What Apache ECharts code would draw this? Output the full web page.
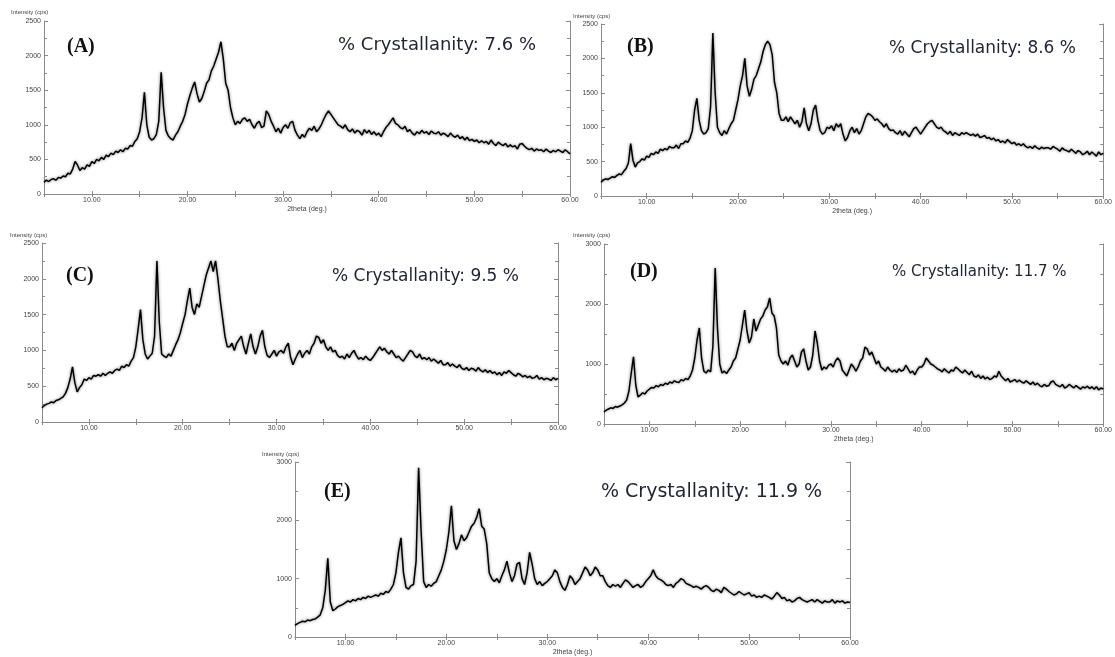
<!DOCTYPE html>
<html>
<head>
<meta charset="utf-8">
<title>XRD patterns</title>
<script src="https://cdn.jsdelivr.net/npm/echarts@6/dist/echarts.min.js"></script>
<style>
html,body{margin:0;padding:0;background:#fff;}
#main{width:1115px;height:657px;}
</style>
</head>
<body>
<div id="main"></div>
<script>
// scan range 5.00 - 60.00 deg 2theta, step 0.25 (one row = one degree)
var scanStart = 5, scanStep = 0.25;

var intensityA = [
170,200,180,210, 220,200,240,230, 260,250,300,290, 360,470,420,340, 380,360,420,400,
470,440,500,480, 530,500,560,540, 590,570,620,600, 640,610,660,650, 700,690,760,800,
900,1100,1470,1000, 820,780,800,860, 1050,1760,1250,920, 840,800,780,850, 900,980,1050,1150,
1300,1420,1530,1620, 1450,1330,1380,1480, 1600,1650,1780,1850, 1950,2050,2200,1950, 1600,1500,1250,1100,
1000,1050,1020,1080, 1100,1050,1080,1000, 950,1020,1050,960, 980,1200,1150,1050, 980,900,950,880,
960,1000,950,1030, 1050,920,850,800, 860,820,900,950, 920,980,900,940, 1000,1080,1150,1200,
1150,1100,1050,1000, 980,950,1000,930, 900,940,880,920, 900,850,930,880, 920,860,900,850,
880,830,900,960, 1000,1050,1100,1020, 1000,960,940,980, 900,930,880,850, 900,870,920,880,
900,860,910,880, 870,900,850,880, 860,830,880,840, 820,850,800,830, 780,820,770,790,
760,780,740,770, 740,760,720,780, 730,700,750,720, 700,730,680,710, 680,700,650,720,
730,690,660,640, 660,620,650,630, 640,610,650,620, 600,630,610,640, 620,600,640,610,
580];

var intensityB = [
200,230,250,240, 260,280,270,300, 320,310,360,400, 480,760,520,420, 480,500,540,520,
580,560,620,600, 640,620,680,660, 690,670,720,700, 700,740,690,760, 760,800,780,840,
950,1250,1420,1100, 950,900,920,980, 1300,2370,1500,1000, 920,880,950,900, 980,1050,1100,1250,
1400,1600,1750,2000, 1600,1450,1550,1700, 1750,1850,1950,2100, 2200,2250,2200,2050, 1650,1500,1200,1100,
1100,1150,1080,1150, 1100,1050,1100,1000, 1080,1280,1050,950, 1050,1250,1320,1100, 950,900,920,1000,
980,1020,950,1050, 1000,1050,900,800, 850,950,1000,920, 980,900,950,1050, 1150,1200,1180,1150,
1100,1120,1080,1050, 1000,1050,980,950, 960,920,900,950, 880,940,900,860, 920,980,1000,950,
900,950,1000,1050, 1080,1100,1050,1000, 980,1000,950,930, 900,940,880,920, 900,880,920,900,
920,900,880,900, 870,900,850,860, 880,840,850,820, 840,800,820,780, 800,770,820,790,
760,780,740,760, 730,760,720,700, 720,690,730,700, 680,710,690,700, 700,680,720,700,
680,650,700,670, 660,640,680,650, 620,660,640,600, 620,650,600,640, 610,580,640,600,
620];

var intensityC = [
200,230,250,260, 280,270,300,310, 330,350,400,480, 600,770,550,420, 480,520,600,580,
620,600,650,640, 660,640,680,650, 680,700,680,720, 740,720,780,760, 800,780,850,900,
1050,1300,1570,1150, 950,880,920,960, 1200,2250,1400,950, 920,900,950,920, 1000,1080,1150,1250,
1380,1500,1700,1870, 1600,1500,1650,1600, 1750,1900,2050,2150, 2250,2100,2250,2000, 1700,1450,1200,1050,
1050,1100,1000,1100, 1150,1200,1050,950, 1100,1230,1050,950, 1050,1200,1280,1050, 930,900,950,1000,
920,980,1000,960, 1050,1100,900,800, 880,950,1000,900, 960,1000,950,1050, 1100,1200,1180,1100,
1150,1050,1000,1050, 980,1000,930,900, 920,880,950,900, 960,1000,930,880, 900,870,920,880,
860,900,950,1000, 1050,1000,1030,980, 950,1000,950,900, 920,880,850,900, 950,1000,980,920,
900,950,880,900, 870,900,850,880, 850,820,860,800, 800,830,780,810, 780,760,800,750,
730,760,720,750, 740,710,760,720, 700,730,690,720, 680,700,660,690, 650,700,680,720,
690,660,640,680, 660,630,650,620, 640,610,620,650, 600,620,590,610, 600,580,620,590,
610];

var intensityD = [
200,230,250,270, 260,290,280,300, 320,350,400,550, 850,1120,650,450, 480,520,500,550,
580,610,600,640, 620,660,640,680, 660,700,680,720, 700,690,740,720, 760,740,800,900,
1100,1400,1600,1100, 880,850,900,870, 1300,2600,1600,1000, 850,880,840,900, 950,1050,1100,1250,
1400,1650,1900,1550, 1350,1450,1750,1550, 1650,1750,1800,1900, 1950,2100,1850,1800, 1600,1150,1050,1000,
1050,980,1100,1150, 1050,950,1000,1200, 1250,1050,900,950, 1150,1550,1350,1050, 900,950,920,980,
1000,950,1050,1100, 1050,900,850,800, 900,1000,950,880, 950,1050,1100,1280, 1250,1150,1200,1100,
1000,1050,950,920, 880,950,900,870, 900,860,920,880, 900,980,920,850, 880,820,900,950,
950,1000,1100,1050, 1000,980,950,920, 900,870,920,880, 850,900,880,950, 920,880,850,900,
860,820,880,800, 780,820,760,800, 750,780,740,760, 800,780,880,800, 760,720,760,700,
720,740,700,730, 700,680,720,690, 660,700,650,680, 640,620,660,630, 640,700,720,660,
640,620,660,600, 620,660,630,600, 640,610,580,620, 600,630,590,620, 580,620,570,600,
580];

var intensityE = [
200,230,250,270, 260,290,280,300, 310,340,380,500, 800,1350,600,450, 480,520,540,560,
590,620,600,640, 620,660,640,680, 660,700,680,700, 720,700,750,730, 780,760,820,900,
1100,1450,1700,1100, 850,820,880,900, 1300,2900,1800,950, 850,900,870,920, 950,1050,1150,1300,
1500,1800,2250,1650, 1500,1600,1750,1650, 1700,1800,1900,1950, 2050,2200,1900,1850, 1600,1100,1000,950,
1000,930,1050,1150, 1300,1100,950,1050, 1250,1280,1000,900, 1100,1450,1250,1000, 900,950,880,920,
950,1000,1050,1150, 1100,950,850,800, 900,1050,1000,900, 950,1000,1100,1200, 1150,1050,1100,1200,
1150,1050,1050,950, 880,850,900,870, 900,850,920,980, 950,900,850,880, 900,850,880,950,
1000,1050,1150,1050, 1000,980,950,900, 880,900,850,920, 950,1000,980,920, 900,880,850,870,
850,820,860,880, 850,800,780,820, 800,760,850,820, 780,750,720,740, 780,750,720,740,
760,700,720,680, 700,680,720,700, 680,650,700,760, 720,660,680,620, 640,600,620,660,
680,640,620,600, 620,640,600,640, 610,580,620,600, 600,640,580,620, 600,620,580,600,
590];

var panelLabels = ['(A)', '(B)', '(C)', '(D)', '(E)'];
var crystallinity = ['7.6', '8.6', '9.5', '11.7', '11.9'];
var yMax = [2500, 2500, 2500, 3000, 3000];
var yStep = [500, 500, 500, 1000, 1000];
var series = [intensityA, intensityB, intensityC, intensityD, intensityE];

// layout of the five plots (px)
var panels = [
    {left: 44,  top: 21,  width: 526, height: 173, tag: [67, 47, 20],  txt: [338, 45, 18],  yname: [11, 13],  xname: true},
    {left: 601, top: 24,  width: 512, height: 172, tag: [627, 47, 20], txt: [889, 49, 17],  yname: [573, 17], xname: true},
    {left: 42,  top: 243, width: 516, height: 179, tag: [66, 276, 20], txt: [332, 277, 17], yname: [10, 236], xname: false},
    {left: 604, top: 244, width: 507, height: 180, tag: [630, 272, 20], txt: [892, 272, 15], yname: [573, 236], xname: true},
    {left: 295, top: 462, width: 555, height: 182, tag: [324, 492, 20], txt: [601, 492, 19], yname: [262, 455], xname: true}
];

var axisGrey = '#8a8a8a';
var tickFont = {fontSize: 7, color: '#444', fontFamily: 'Liberation Sans'};

var grids = [], xAxes = [], yAxes = [], lines = [], texts = [];

panels.forEach(function (p, i) {
    grids.push({left: p.left, top: p.top, width: p.width, height: p.height, containLabel: false});

    // bottom axis with labels
    xAxes.push({
        type: 'value', gridIndex: i, position: 'bottom', min: 5, max: 60, interval: 5,
        name: p.xname ? '2theta (deg.)' : '', nameLocation: 'middle', nameGap: 12,
        nameTextStyle: {fontSize: 7, color: '#444', fontFamily: 'Liberation Sans'},
        axisLine: {lineStyle: {color: axisGrey, width: 1}},
        axisTick: {inside: true, length: 3, lineStyle: {color: axisGrey}},
        axisLabel: Object.assign({margin: 3, interval: 0, formatter: function (v) {
            return (v % 10 === 0) ? v.toFixed(2) : '';
        }}, tickFont),
        splitLine: {show: false}
    });
    // top frame
    xAxes.push({
        type: 'value', gridIndex: i, position: 'top', min: 5, max: 60, interval: 5,
        axisLine: {lineStyle: {color: axisGrey, width: 1}},
        axisTick: {inside: true, length: 3, lineStyle: {color: axisGrey}},
        axisLabel: {show: false}, splitLine: {show: false}
    });
    // left axis with labels
    yAxes.push({
        type: 'value', gridIndex: i, position: 'left', min: 0, max: yMax[i], interval: yStep[i],
        axisLine: {show: true, lineStyle: {color: axisGrey, width: 1}},
        axisTick: {show: true, inside: true, length: 4, lineStyle: {color: axisGrey}},
        minorTick: {show: true, splitNumber: 2, length: 3, lineStyle: {color: axisGrey}},
        axisLabel: Object.assign({margin: 3, formatter: function (v) { return String(v); }}, tickFont),
        splitLine: {show: false}
    });
    // right frame
    yAxes.push({
        type: 'value', gridIndex: i, position: 'right', min: 0, max: yMax[i], interval: yStep[i],
        axisLine: {show: true, lineStyle: {color: axisGrey, width: 1}},
        axisTick: {show: true, inside: true, length: 4, lineStyle: {color: axisGrey}},
        minorTick: {show: true, splitNumber: 2, length: 3, lineStyle: {color: axisGrey}},
        axisLabel: {show: false}, splitLine: {show: false}
    });

    var pts = [];
    for (var k = 0; k < series[i].length; k++) {
        pts.push([scanStart + k * scanStep, series[i][k]]);
    }
    lines.push({
        type: 'line', xAxisIndex: i * 2, yAxisIndex: i * 2, data: pts,
        showSymbol: false, symbol: 'none', silent: true,
        lineStyle: {color: '#000', width: 1.5, shadowBlur: 3, shadowColor: 'rgba(0,0,0,0.55)'}
    });

    texts.push({
        type: 'text', left: p.yname[0], top: p.yname[1] - 4,
        style: {text: 'Intensity (cps)', fontSize: 6, fill: '#444', fontFamily: 'Liberation Sans'}
    });
    texts.push({
        type: 'text', x: p.tag[0], y: p.tag[1],
        style: {text: panelLabels[i], fontSize: p.tag[2], fontWeight: 'bold', fontFamily: 'Liberation Serif',
            fill: '#111', textVerticalAlign: 'middle'}
    });
    texts.push({
        type: 'text', x: p.txt[0], y: p.txt[1],
        style: {text: '% Crystallanity: ' + crystallinity[i] + ' %', fontSize: p.txt[2],
            fontFamily: 'DejaVu Sans', fill: '#1e2433', textVerticalAlign: 'middle'}
    });
});

var myChart = echarts.init(document.getElementById('main'));
myChart.setOption({
    backgroundColor: '#fff',
    animation: false,
    grid: grids,
    xAxis: xAxes,
    yAxis: yAxes,
    series: lines,
    graphic: texts
});
</script>
</body>
</html>
